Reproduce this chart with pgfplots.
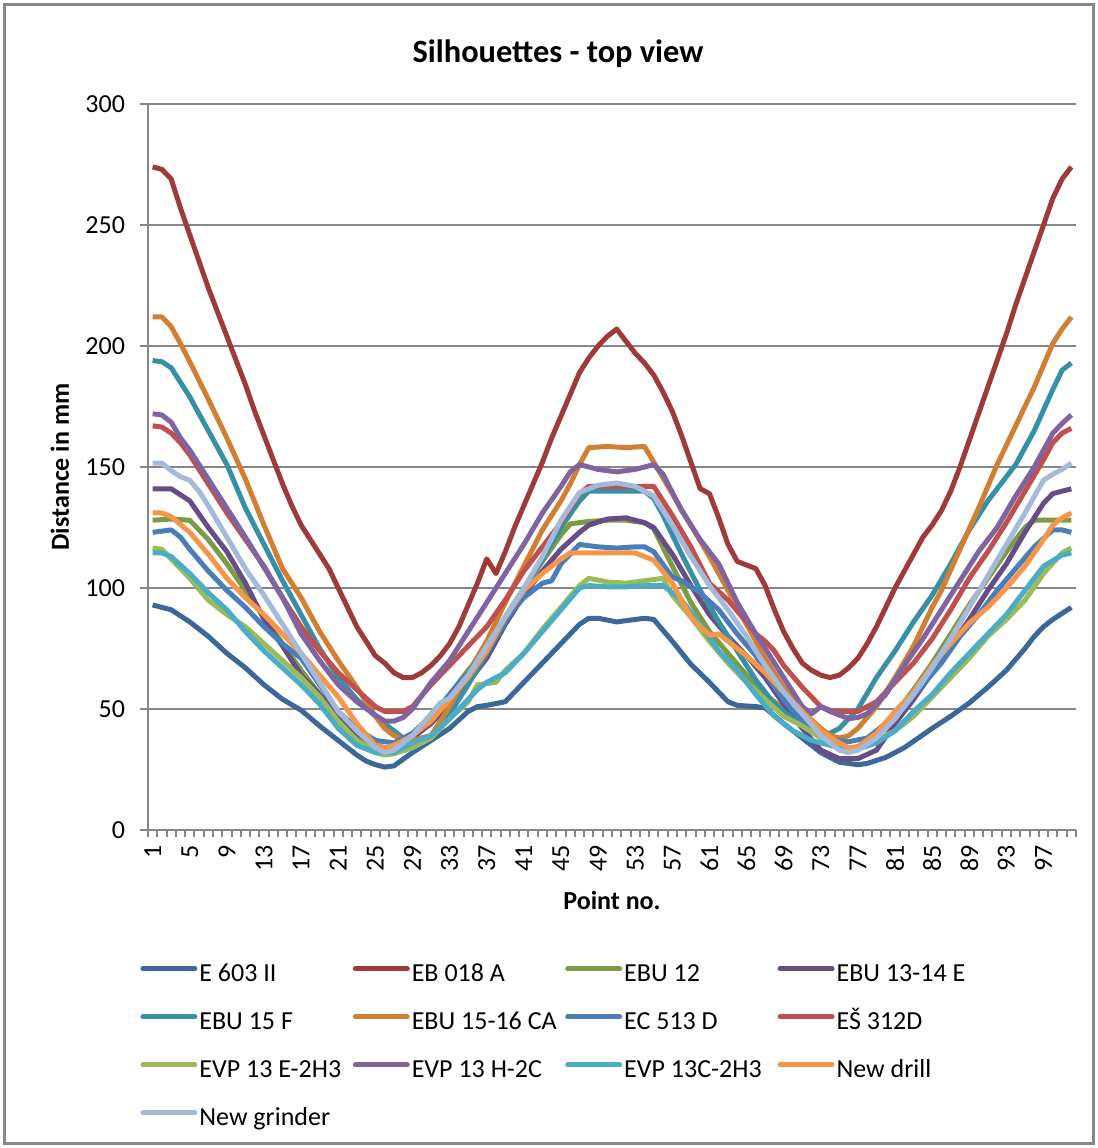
\documentclass[border=0pt]{standalone}
\usepackage{fontspec}
\setmainfont{Carlito}
\usepackage{pgfplots}
\pgfplotsset{compat=1.18}
\definecolor{c1}{HTML}{3C6899}
\definecolor{c2}{HTML}{9E3B38}
\definecolor{c3}{HTML}{7D9B44}
\definecolor{c4}{HTML}{664D87}
\definecolor{c5}{HTML}{3790A6}
\definecolor{c6}{HTML}{D07F33}
\definecolor{c7}{HTML}{4A7EBB}
\definecolor{c8}{HTML}{C0504D}
\definecolor{c9}{HTML}{9BBB59}
\definecolor{c10}{HTML}{8064A2}
\definecolor{c11}{HTML}{4BACC6}
\definecolor{c12}{HTML}{F79646}
\definecolor{c13}{HTML}{A5B9DA}
\definecolor{axisgray}{HTML}{878787}
\newcommand{\lf}{\fontsize{13}{15.6}\selectfont}
\newcommand{\legtext}[1]{\makebox[75.7pt][l]{#1}}
\begin{document}
\begin{tikzpicture}[x=1pt,y=1pt]
\path[use as bounding box] (-74,-159) rectangle (475,415);
\draw[color=axisgray, line width=1.5pt] (-71.5,-156.5) rectangle (472.5,412.5);
\node[font=\fontsize{16.2}{19}\selectfont\bfseries] at (205,388) {Silhouettes - top view};
\begin{axis}[at={(0,0)}, anchor=south west, scale only axis, width=464pt, height=363pt,
  xmin=0.5, xmax=100.5, ymin=0, ymax=300,
  axis lines*=left, axis line style={draw=axisgray, line width=1pt},
  xtick={1,5,...,97}, minor xtick={0.5,1.5,...,100.5},
  ytick={0,50,...,300}, ymajorgrids, major grid style={draw=axisgray, line width=1pt},
  tick align=outside, tick pos=left,
  tick style={draw=axisgray, line width=1pt},
  major tick length=4pt, minor tick length=3.5pt,
  every major x tick/.append style={draw=none},
  /pgf/number format/assume math mode=true,
  ticklabel style={font=\lf},
  xticklabel style={rotate=90, anchor=east},
  yticklabel style={xshift=-4pt},
  xlabel={Point no.}, ylabel={Distance in mm},
  xlabel style={at={(axis description cs:0.5,-0.0964)}, anchor=center, font=\lf\bfseries},
  ylabel style={at={(axis description cs:-0.095,0.5)}, anchor=center, font=\lf\bfseries},
  legend columns=4,
  legend cell align=left,
  legend style={at={(axis description cs:-0.0086,-0.1791)}, anchor=north west, draw=none, fill=none,
    font=\lf, inner sep=0pt, row sep=9.5pt,
    nodes={inner sep=1pt, text height=9.5pt, text depth=3pt},
    /tikz/every odd column/.append style={column sep=0pt}},
  legend image code/.code={\draw[#1, line width=2.5pt, line cap=round] (0pt,3pt) -- (26pt,3pt);},
  every axis plot/.append style={line width=2.5pt, line join=round, no markers},
]
\addplot[c1] coordinates {(1,93)(3,91)(5,86)(7,80)(9,73)(11,67)(13,60)(15,54)(17,49.5)(19,43)(21,37)(23,31)(24,28.5)(25,27)(26,26)(27,26.5)(29,32)(31,37)(33,42)(35,49)(36,51)(37,51.5)(39,53)(41,61)(43,69)(45,77)(47,85)(48,87.5)(49,87.5)(51,86)(53,87)(54,87.5)(55,87)(57,78)(59,68.5)(61,61)(63,53)(64,51.5)(66,51)(67,50.5)(69,44)(71,38)(73,32)(75,28)(77,27)(78,27.5)(80,30)(82,34)(85,42)(87,47)(89,52.5)(91,59)(93,66)(95,75)(96,80)(97,84)(98,87)(100,92)};
\addlegendentry{\legtext{E 603 II}}
\addplot[c2] coordinates {(1,274)(2,273)(3,269)(4,257)(5,246)(6,235)(7,224)(8,214)(9,204)(10,194)(11,184)(12,173)(13,163)(14,153)(15,143)(16,134)(17,126)(18,120)(19,114)(20,108)(21,100)(22,92)(23,84)(24,78)(25,72)(26,69)(27,65)(28,63)(29,63)(30,65)(31,68)(32,72)(33,77)(34,84)(35,93)(36,102)(37,112)(38,106)(39,115)(40,125)(41,134)(42,143)(43,152)(44,162)(45,171)(46,180)(47,189)(48,195)(49,200)(50,204)(51,207)(52,202)(53,197)(54,193)(55,188)(56,181)(57,173)(58,163)(59,152)(60,141)(61,139)(62,129)(63,118)(64,111)(65,109.5)(66,108)(67,101)(68,91)(69,82)(70,75)(71,69)(72,66)(73,64)(74,63)(75,64)(76,67)(77,71)(78,77)(79,84)(80,92)(81,100)(82,107)(83,114)(84,121)(85,126)(86,132)(87,140)(88,150)(89,161)(90,172)(91,183)(92,194)(93,205)(94,217)(95,228)(96,239)(97,250)(98,261)(99,269)(100,274)};
\addlegendentry{\legtext{EB 018 A}}
\addplot[c3] coordinates {(1,128)(3,128.5)(5,128)(7,120)(9,110)(11,99)(13,88)(15,77)(17,66)(19,56)(21,47)(23,39)(25,34)(27,33)(29,38)(31,45)(33,56)(35,66)(37,75)(39,88)(41,100)(43,111)(45,122)(46,126.5)(48,127.5)(50,128)(52,128)(54,127)(55,124.5)(57,109)(59,94)(61,82)(63,73)(65,64)(67,56)(69,50)(71,46)(72,44.5)(73,40)(75,35)(76,33)(77,34)(79,40)(81,48)(83,58)(85,69)(87,81)(89,93)(91,104)(93,115)(95,125)(96,128)(100,128)};
\addlegendentry{\legtext{EBU 12}}
\addplot[c4] coordinates {(1,141)(3,141)(5,136)(7,125)(9,115)(11,102)(13,87)(15,76)(17,64)(19,56)(21,48)(23,40)(25,35)(26,34)(27,34)(29,38)(31,44)(33,52)(35,61)(37,71)(39,85)(41,97)(43,107)(45,116)(47,123)(48,126)(50,128.5)(52,129)(54,127)(55,125)(57,114)(59,101)(61,89)(63,80)(65,72)(67,63)(69,52)(71,42)(73,33)(75,29.5)(77,29.5)(79,33)(81,44)(83,54)(85,65)(87,76)(89,87)(91,99)(93,110)(95,123)(97,135)(98,139)(100,141)};
\addlegendentry{\legtext{EBU 13-14 E}}
\addplot[c5] coordinates {(1,194)(2,193.5)(3,191)(5,179)(7,165)(9,151)(11,133)(13,118)(15,103)(17,89)(19,75)(21,63)(23,54)(25,47)(26,44)(27,41)(28,38)(29,37)(31,39)(33,48)(35,60)(37,73)(39,86)(41,99)(43,112)(45,125)(47,136)(48,140)(54,140)(55,137)(56,130)(58,114)(60,99)(62,86)(64,74)(66,62)(68,52)(70,46)(72,42)(73,40)(74,40)(75,42)(77,50)(79,63)(81,74)(83,86)(85,97)(87,110)(89,124)(91,136)(93,146)(94,151)(96,165)(98,182)(99,190)(100,193)};
\addlegendentry{\legtext{EBU 15 F}}
\addplot[c6] coordinates {(1,212)(2,212)(3,208)(4,201)(5,193.5)(7,178)(9,162)(11,145)(13,126)(15,108)(17,96)(19,82)(21,70)(23,59)(25,47)(26,42)(27,39)(28,37.5)(29,37)(30,38)(31,39)(33,51)(35,65)(37,78)(39,94)(41,109)(43,124)(45,136)(46,143)(47,151)(48,158)(50,158.5)(52,158)(54,158.5)(55,152)(57,139)(59,126)(61,113)(63,99)(65,85)(67,71)(69,59)(71,49)(73,42)(74,39)(75,38)(76,39)(77,42)(79,51)(81,63)(83,76)(85,92)(86,99)(88,116)(90,133)(92,151)(94,167)(96,183)(98,201)(99,207)(100,212)};
\addlegendentry{\legtext{EBU 15-16 CA}}
\addplot[c7] coordinates {(1,123)(3,124)(4,121)(5,116)(7,107)(9,99)(11,92)(13,84)(15,77)(17,71)(19,60)(21,49)(23,42)(25,37)(27,36)(29,40)(31,47)(33,56)(35,65)(37,75)(39,87)(41,96)(43,102)(44,103)(45,110)(47,118)(49,117)(51,116.5)(53,117)(54,117)(55,115)(57,104.5)(58,103)(60,98)(62,91)(64,81)(66,72)(68,59)(70,49)(72,42)(74,37.5)(76,36.5)(78,38)(80,44)(82,51)(84,60)(86,69)(88,80)(90,89)(92,99)(94,108)(96,117)(98,124)(99,124)(100,123)};
\addlegendentry{\legtext{EC 513 D}}
\addplot[c8] coordinates {(1,167)(2,166.5)(3,164)(4,160)(5,155)(7,143)(9,131)(11,120)(13,109)(15,96)(17,84)(19,74)(21,65)(23,58)(25,51)(26,49)(28,49)(29,51)(31,60)(33,68)(35,76)(37,84)(39,95)(41,107)(43,117)(45,127)(47,139)(48,142)(55,142)(57,130)(59,117)(61,102)(63,95)(65,86)(66,81)(67,78)(68,74)(69,68)(71,59)(73,51)(74,49.5)(75,49)(77,49)(79,53)(81,61)(83,69)(85,79)(87,91)(89,104)(91,115)(93,127)(95,140)(97,153)(98,160)(99,164)(100,166)};
\addlegendentry{\legtext{EŠ 312D}}
\addplot[c9] coordinates {(1,116.5)(2,116)(3,112)(5,104)(7,95)(9,89)(11,84)(13,77)(15,70)(17,63)(19,55)(21,45)(23,37)(25,32)(26,31)(27,31.5)(29,34)(31,38)(33,46)(35,53)(36,60)(38,61)(39,66)(41,73)(43,83)(45,92)(47,101)(48,104)(50,102.5)(52,102)(54,103)(56,104)(57,97)(59,88)(61,78)(63,69)(65,61)(67,54)(69,47)(71,43)(73,38)(75,34)(77,34)(79,37)(81,41)(83,47)(85,55)(87,63)(89,71)(91,80)(93,87)(95,95)(97,106)(99,114.5)(100,116.5)};
\addlegendentry{\legtext{EVP 13 E-2H3}}
\addplot[c10] coordinates {(1,172)(2,171.5)(3,168.5)(4,162)(5,157)(7,145)(9,133)(11,121)(13,108.5)(15,96)(17,81)(19,70)(21,60)(23,53)(25,47.5)(26,45)(27,45)(28,46.5)(29,50)(31,61)(33,70)(35,82)(37,94)(39,106)(41,118)(43,131)(45,142)(46,148)(47,151)(49,149)(51,148)(53,149)(55,151)(56,147)(58,132)(60,120)(62,110)(64,94)(66,81)(68,69)(70,57)(71,51)(72,48)(73,51)(74,49)(76,46)(77,46.5)(78,48)(80,56)(82,68)(84,79)(86,91)(88,103)(90,115)(92,125)(94,138)(96,150)(97,157)(98,164)(99,168)(100,171.5)};
\addlegendentry{\legtext{EVP 13 H-2C}}
\addplot[c11] coordinates {(1,114.5)(2,114.5)(3,113)(5,106)(7,98)(9,91)(11,82)(13,74)(15,67)(17,60)(19,52)(21,42)(23,35)(25,32)(27,32)(29,36)(31,39)(33,46)(35,54)(36,58)(37,61)(38,63)(39,65)(41,73)(43,82)(45,91)(47,100)(48,101)(50,100.5)(52,100.5)(54,101)(56,101)(58,95)(60,85)(62,74)(64,66)(66,56)(68,47)(70,41)(72,37)(74,35)(76,33)(77,33.5)(79,36)(81,41)(83,49)(85,56)(87,65)(89,73)(91,81)(93,89)(95,99)(97,109)(99,113.6)(100,114.5)};
\addlegendentry{\legtext{EVP 13C-2H3}}
\addplot[c12] coordinates {(1,131)(2,131)(3,129.5)(5,123)(7,114)(9,104)(11,96)(13,89)(15,81)(17,73)(19,64)(21,55)(23,44)(25,35)(26,34)(27,35)(29,39)(31,45)(33,54)(35,63)(37,74)(39,88)(41,99)(43,106)(45,112)(46,114.5)(53,114.5)(55,111.5)(57,102)(59,88)(60,84)(61,80.5)(62,81)(63,78)(65,72)(67,65)(69,57)(71,49)(73,41)(75,36)(76,34)(77,34.5)(79,40)(81,49)(83,57)(85,68)(87,77)(89,85.5)(91,92)(93,100)(95,109)(97,120)(98,126)(99,129)(100,131)};
\addlegendentry{\legtext{New drill}}
\addplot[c13] coordinates {(1,151.6)(2,151.6)(3,148.5)(4,146)(5,144.5)(6,140)(7,134)(9,121)(11,108)(13,97)(15,85)(17,73)(19,61)(21,49)(23,41)(25,34)(26,32)(27,33)(29,39)(31,48)(32,52.5)(33,54.5)(35,64)(37,76)(39,88)(41,100)(43,113)(45,128)(47,139.5)(49,142.5)(51,143.4)(53,142)(55,138)(57,126)(59,113)(61,101)(63,91)(65,80)(67,68)(69,57)(71,48)(73,39)(75,33)(76,32)(77,33)(79,38)(81,46)(83,56)(85,67)(87,79)(89,92)(91,105)(93,118)(95,131)(97,144.6)(98,147)(99,149)(100,151.6)};
\addlegendentry{\legtext{New grinder}}
\end{axis}
\end{tikzpicture}
\end{document}
